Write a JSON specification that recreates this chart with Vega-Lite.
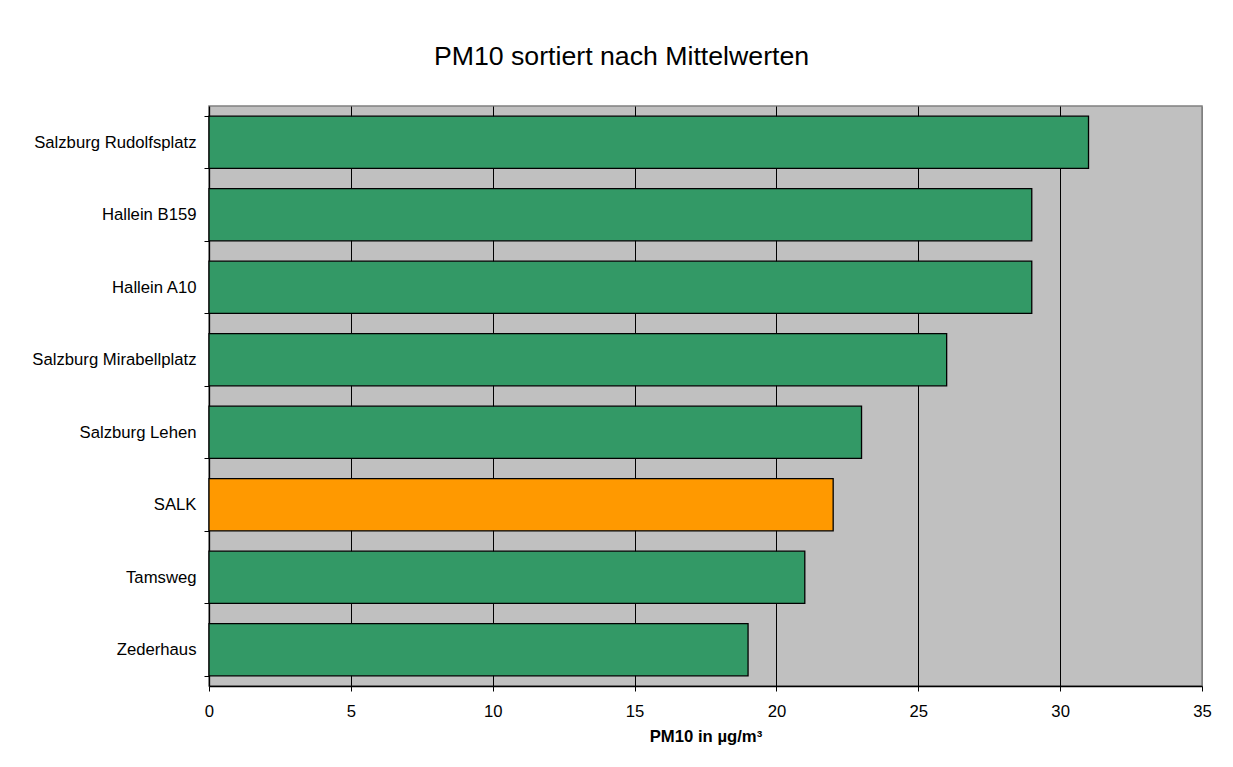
{
  "$schema": "https://vega.github.io/schema/vega-lite/v6.json",
  "autosize": "none",
  "width": 993,
  "height": 580,
  "padding": {"left": 209, "top": 106, "right": 31, "bottom": 81},
  "background": "white",
  "title": {
    "text": "PM10 sortiert nach Mittelwerten",
    "font": "Liberation Sans",
    "fontSize": 26.7,
    "fontWeight": "normal",
    "color": "black",
    "anchor": "middle",
    "frame": "group",
    "dx": -84,
    "baseline": "alphabetic",
    "offset": 6
  },
  "data": {
    "values": [
      {"station": "Salzburg Rudolfsplatz", "pm10": 31},
      {"station": "Hallein B159", "pm10": 29},
      {"station": "Hallein A10", "pm10": 29},
      {"station": "Salzburg Mirabellplatz", "pm10": 26},
      {"station": "Salzburg Lehen", "pm10": 23},
      {"station": "SALK", "pm10": 22},
      {"station": "Tamsweg", "pm10": 21},
      {"station": "Zederhaus", "pm10": 19}
    ]
  },
  "mark": {"type": "bar", "stroke": "black", "strokeWidth": 1.3},
  "encoding": {
    "y": {
      "field": "station",
      "type": "nominal",
      "sort": ["Salzburg Rudolfsplatz", "Hallein B159", "Hallein A10", "Salzburg Mirabellplatz", "Salzburg Lehen", "SALK", "Tamsweg", "Zederhaus"],
      "scale": {"paddingInner": 0.28, "paddingOuter": 0.14},
      "axis": {
        "title": null,
        "grid": false,
        "tickBand": "extent",
        "domainColor": "black",
        "domainWidth": 1.3,
        "tickColor": "black",
        "tickSize": 5,
        "tickWidth": 1,
        "labelPadding": 8,
        "labelFont": "Liberation Sans",
        "labelFontSize": 16.7,
        "labelColor": "black",
        "labelLimit": 400
      }
    },
    "x": {
      "field": "pm10",
      "type": "quantitative",
      "scale": {"domain": [0, 35], "nice": false},
      "axis": {
        "values": [0, 5, 10, 15, 20, 25, 30, 35],
        "title": "PM10 in µg/m³",
        "titleFont": "Liberation Sans",
        "titleFontSize": 16.7,
        "titleFontWeight": "bold",
        "titleColor": "black",
        "titlePadding": 9,
        "grid": true,
        "gridColor": {"condition": {"test": "datum.value === 35 || datum.value === 0", "value": "#808080"}, "value": "black"},
        "gridWidth": 1,
        "gridOpacity": 1,
        "domainColor": "black",
        "domainWidth": 1.3,
        "tickColor": "black",
        "tickSize": 5,
        "tickWidth": 1,
        "labelPadding": 12,
        "labelFont": "Liberation Sans",
        "labelFontSize": 16.7,
        "labelColor": "black",
        "labelFlush": false
      }
    },
    "color": {
      "condition": {"test": "datum.station === 'SALK'", "value": "#FF9900"},
      "value": "#339966"
    }
  },
  "config": {
    "view": {"fill": "#C0C0C0", "stroke": "#808080", "strokeWidth": 1.5}
  }
}
